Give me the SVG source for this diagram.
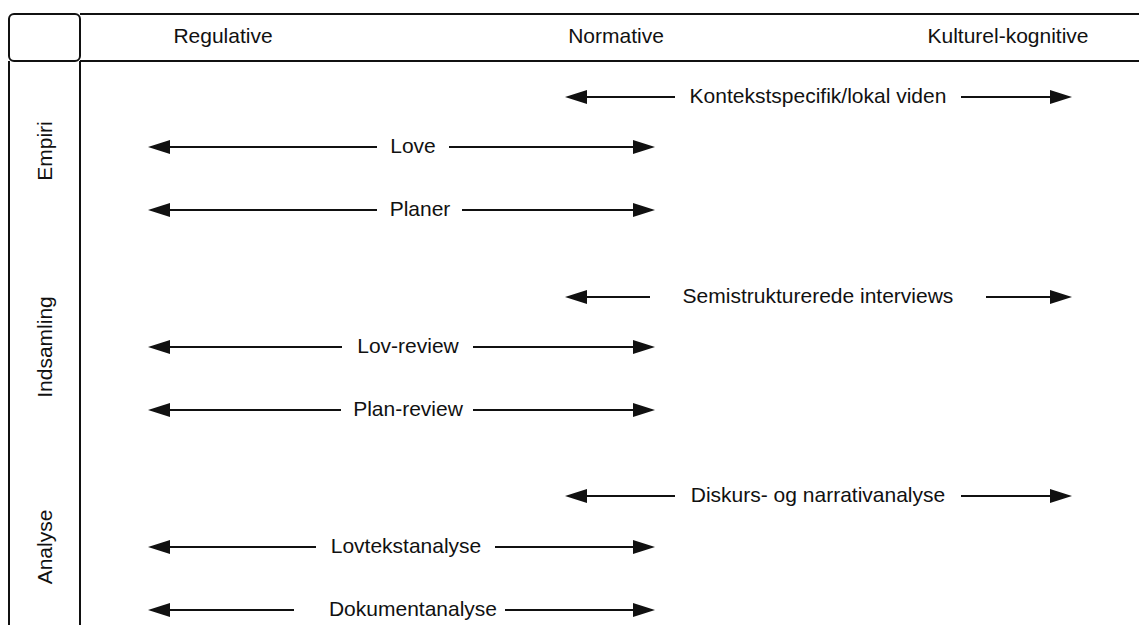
<svg xmlns="http://www.w3.org/2000/svg" width="1139" height="625" viewBox="0 0 1139 625">
  <style>
    .frame { fill: none; stroke: #111; stroke-width: 2; }
    .lbl { font-family: "Liberation Sans", Arial, sans-serif; font-size: 21px; fill: #111; text-anchor: middle; }
    .conn { fill: none; stroke: #111; stroke-width: 2; marker-end: url(#head); }
  </style>
  <defs>
    <marker id="head" viewBox="0 0 22 14" refX="0" refY="7" markerWidth="22" markerHeight="14" markerUnits="userSpaceOnUse" orient="auto">
      <path d="M0,0 L22,7 L0,14 Z" fill="#111"/>
    </marker>
  </defs>

  <rect width="1139" height="625" fill="#fff"/>

  <!-- swimlane grid -->
  <g id="grid">
    <rect class="frame" x="9" y="14" width="71" height="47" rx="5"/>
    <path class="frame" d="M80,14 H1141 M80,61 H1141"/>
    <path class="frame" d="M9,61 V627 M80,61 V627"/>
  </g>

  <!-- column headers -->
  <g id="col-regulative"><text class="lbl" x="223" y="43">Regulative</text></g>
  <g id="col-normative"><text class="lbl" x="616" y="43">Normative</text></g>
  <g id="col-kulturel"><text class="lbl" x="1008" y="43">Kulturel-kognitive</text></g>

  <!-- lane headers -->
  <g id="lane-empiri"><text class="lbl" transform="translate(52,151) rotate(-90)">Empiri</text></g>
  <g id="lane-indsamling"><text class="lbl" transform="translate(52,347) rotate(-90)">Indsamling</text></g>
  <g id="lane-analyse"><text class="lbl" transform="translate(52,547) rotate(-90)">Analyse</text></g>

  <!-- range connectors -->
  <g id="connectors">
    <path class="conn" d="M675,97 H587"/>
    <path class="conn" d="M961,97 H1050"/>
    <path class="conn" d="M377,147 H170"/>
    <path class="conn" d="M449,147 H633"/>
    <path class="conn" d="M377,210 H170"/>
    <path class="conn" d="M462,210 H633"/>

    <path class="conn" d="M650,297 H587"/>
    <path class="conn" d="M986,297 H1050"/>
    <path class="conn" d="M342,347 H170"/>
    <path class="conn" d="M473,347 H633"/>
    <path class="conn" d="M341,410 H170"/>
    <path class="conn" d="M473,410 H633"/>

    <path class="conn" d="M675,496 H587"/>
    <path class="conn" d="M961,496 H1050"/>
    <path class="conn" d="M316,547 H170"/>
    <path class="conn" d="M495,547 H633"/>
    <path class="conn" d="M294,610 H170"/>
    <path class="conn" d="M505,610 H633"/>
  </g>

  <!-- connector labels -->
  <g id="labels">
    <text class="lbl" x="818" y="103">Kontekstspecifik/lokal viden</text>
    <text class="lbl" x="413" y="153">Love</text>
    <text class="lbl" x="420" y="216">Planer</text>
    <text class="lbl" x="818" y="303">Semistrukturerede interviews</text>
    <text class="lbl" x="408" y="353">Lov-review</text>
    <text class="lbl" x="408" y="416">Plan-review</text>
    <text class="lbl" x="818" y="502">Diskurs- og narrativanalyse</text>
    <text class="lbl" x="406" y="553">Lovtekstanalyse</text>
    <text class="lbl" x="413" y="616">Dokumentanalyse</text>
  </g>
</svg>
